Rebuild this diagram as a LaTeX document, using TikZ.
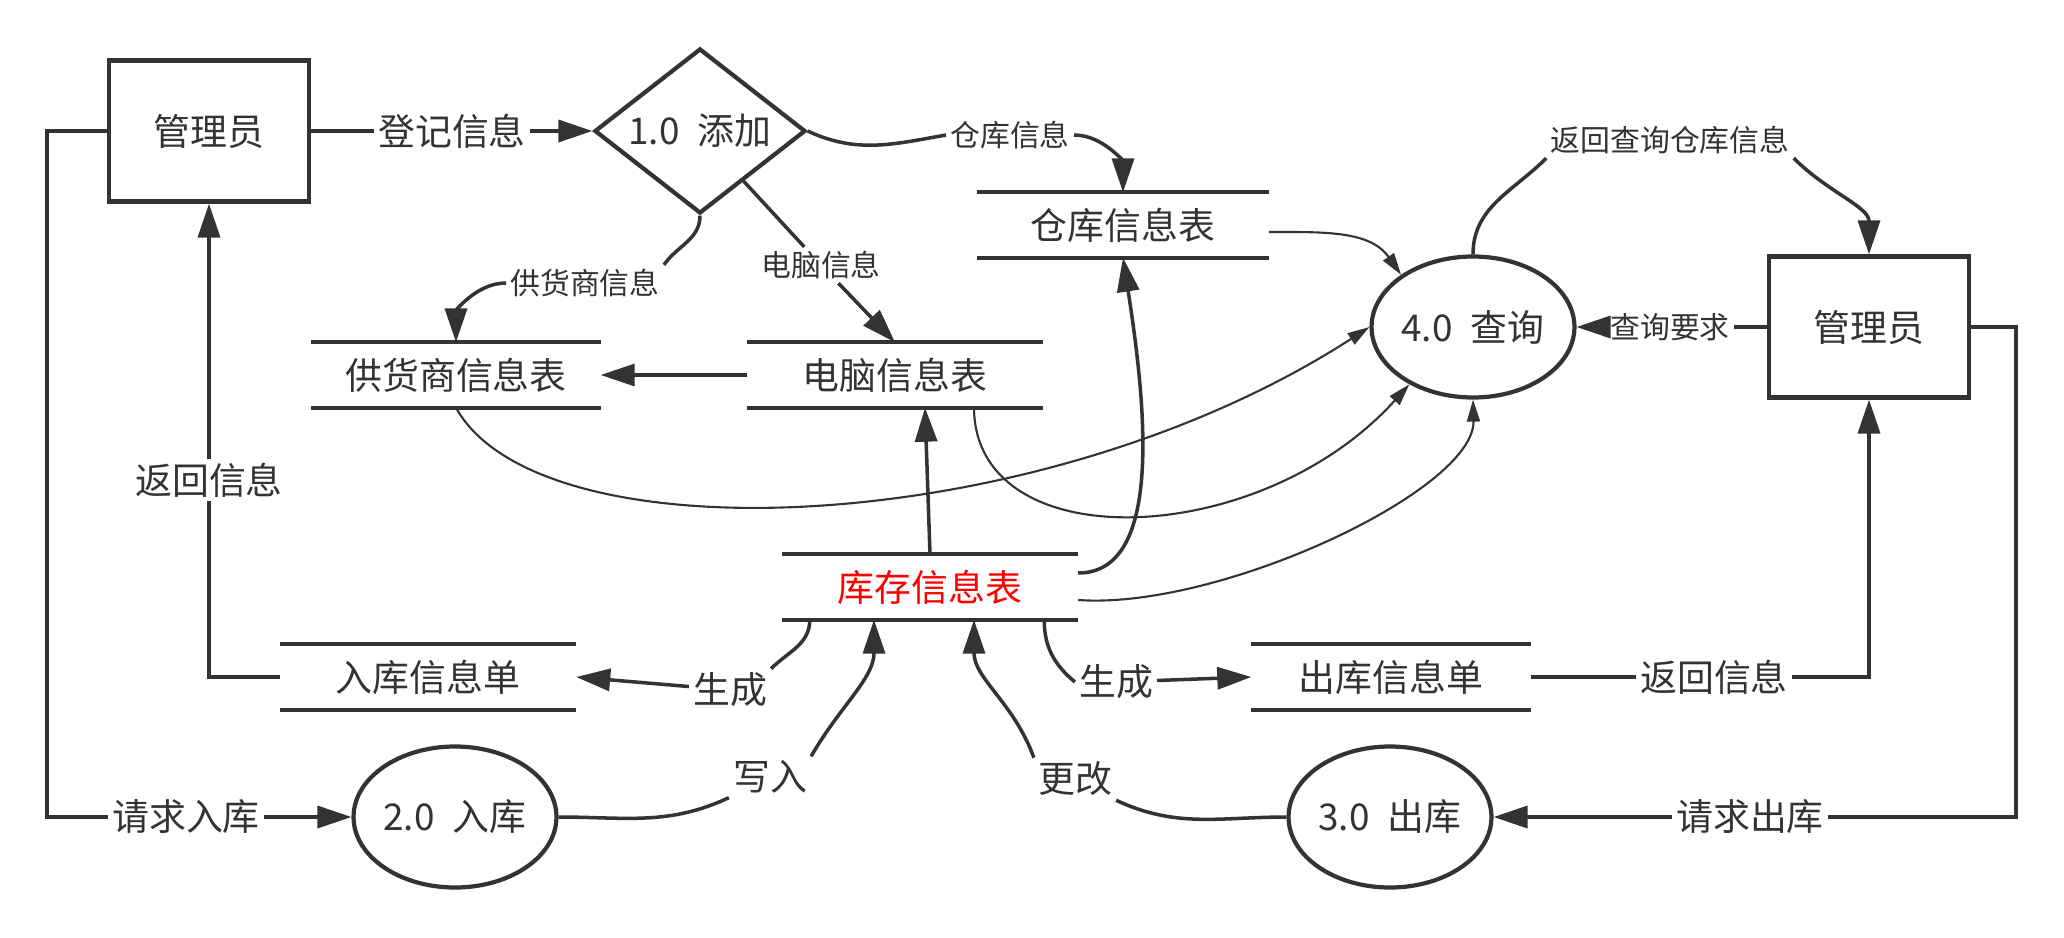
\documentclass[tikz,border=0pt]{standalone}
\usepackage{fontspec}
\setmainfont{Noto Sans CJK SC}
\usepackage{xcolor}
\usetikzlibrary{arrows.meta,shapes.geometric}
\definecolor{ink}{HTML}{333333}

\begin{document}
\begin{tikzpicture}[
    every node/.style={font=\fontsize{10.5pt}{12pt}\selectfont, text=ink},
    entity/.style={draw=ink, line width=1.2pt, minimum width=2cm, minimum height=1.41cm},
    process/.style={ellipse, draw=ink, line width=1.2pt, minimum width=2cm, minimum height=1.41cm, inner sep=0pt},
    store/.style={minimum width=2.95cm, minimum height=0.64cm, inner sep=0pt},
    lab/.style={inner sep=1pt},
    slab/.style={inner sep=1pt, font=\fontsize{8.5pt}{10pt}\selectfont},
    seg/.style={draw=ink, line width=1pt},
    flow/.style={draw=ink, line width=1pt, -{Triangle[length=3.4mm,width=2.2mm]}},
    qflow/.style={draw=ink, line width=0.6pt, -{Triangle[length=2.2mm,width=1.3mm]}}]
\useasboundingbox (0,0) rectangle (20.64,9.37);

\node[entity] (adm1) at (2.09,8.06) {管理员};
\node[diamond, draw=ink, line width=1.2pt, minimum width=2.11cm, minimum height=1.65cm, inner sep=0pt, aspect=1.28] (add) at (7.00,8.06) {1.0\enspace 添加};
\node[store, minimum width=2.91cm] (ware) at (11.23,7.12) {仓库信息表};
\node[store, minimum width=2.88cm] (supp) at (4.56,5.62) {供货商信息表};
\node[store, minimum width=2.94cm] (comp) at (8.95,5.62) {电脑信息表};
\node[store, text=red] (stock) at (9.30,3.50) {库存信息表};
\node[store] (inlist) at (4.28,2.60) {入库信息单};
\node[store, minimum width=2.78cm] (outlist) at (13.91,2.60) {出库信息单};
\node[process] (p2) at (4.55,1.20) {2.0\enspace 入库};
\node[process] (p3) at (13.90,1.20) {3.0\enspace 出库};
\node[process] (p4) at (14.73,6.10) {4.0\enspace 查询};
\node[entity] (adm2) at (18.69,6.10) {管理员};

\foreach \s in {ware,supp,comp,stock,inlist,outlist}{
    \draw[draw=ink, line width=1.2pt] (\s.north west) -- (\s.north east) (\s.south west) -- (\s.south east);
}

\node[lab] (lreg) at (4.52,8.06) {登记信息};
\node[slab] (lware) at (10.10,8.02) {仓库信息};
\node[slab] (lsupp) at (5.85,6.54) {供货商信息};
\node[slab] (lcomp) at (8.21,6.72) {电脑信息};
\node[slab] (lback) at (16.70,7.97) {返回查询仓库信息};
\node[slab] (lquery) at (16.70,6.10) {查询要求};
\node[lab] (lret1) at (2.09,4.57) {返回信息};
\node[lab] (lgen1) at (7.30,2.47) {生成};
\node[lab] (lgen2) at (11.16,2.55) {生成};
\node[lab] (lret2) at (17.14,2.60) {返回信息};
\node[lab] (lreq1) at (1.86,1.20) {请求入库};
\node[lab] (lreq2) at (17.50,1.20) {请求出库};
\node[lab] (lwrite) at (7.70,1.60) {写入};
\node[lab] (lmod) at (10.75,1.58) {更改};

\draw[seg] (adm1) -- (lreg);
\draw[flow] (lreg) -- (add);
\draw[seg] (add.east) to[out=-25,in=190] (lware.west);
\draw[flow] (lware.east) to[out=0,in=90] (ware.north);
\draw[seg] (add.south) to[out=-90,in=55] (lsupp.north east);
\draw[flow] (lsupp.west) to[out=180,in=90] (supp.north);
\draw[seg] (add.-49) -- (lcomp);
\draw[flow] (lcomp) -- (comp.north);
\draw[flow] (comp.west) -- (supp.east);
\draw[flow] (stock.north) -- ([xshift=3mm]comp.south);
\draw[flow] ([yshift=1.4mm]stock.east) .. controls (11.65,3.64) and (11.45,5.37) .. (ware.south);

\draw[seg] (p4.north) to[out=90,in=-135] (lback.south west);
\draw[flow] (lback.south east) to[out=-45,in=90] (adm2.north);
\draw[seg] (adm2) -- (lquery);
\draw[flow] (lquery) -- (p4);
\draw[seg] (adm2.east) -- ++(0.45,0) |- (lreq2);
\draw[flow] (lreq2) -- (p3);
\draw[seg] (outlist.east) -- (lret2);
\draw[flow] (lret2) -| (adm2.south);

\draw[seg] ([xshift=-3.4mm]stock.south east) to[out=-90,in=140] (lgen2.west);
\draw[flow] (lgen2) -- (outlist.west);
\draw[seg] ([xshift=2.8mm]stock.south west) to[out=-90,in=45] (lgen1.north east);
\draw[flow] (lgen1) -- (inlist.east);
\draw[seg] (inlist.west) -| (lret1);
\draw[flow] (lret1) -- (adm1.south);
\draw[seg] (adm1.west) -- ++(-0.6,0) |- (lreq1);
\draw[flow] (lreq1) -- (p2);
\draw[seg] (p2.east) to[out=0,in=-155] (lwrite.south west);
\draw[flow] (lwrite.north east) to[out=60,in=-90] ([xshift=-5.6mm]stock.south);
\draw[seg] (p3.west) to[out=180,in=-25] (lmod.south east);
\draw[flow] (lmod.north west) to[out=110,in=-90] ([xshift=4.4mm]stock.south);

\draw[qflow] ([yshift=-0.7mm]ware.east) to[out=0,in=125] (p4.144);
\draw[qflow] (supp.south) .. controls (5.4,3.77) and (10.4,3.97) .. (p4.west);
\draw[qflow] ([xshift=7.9mm]comp.south) .. controls (9.75,3.77) and (12.6,3.87) .. (p4.222);
\draw[qflow] ([yshift=-1.3mm]stock.east) .. controls (12.2,3.27) and (14.75,4.47) .. (p4.south);
\end{tikzpicture}
\end{document}
